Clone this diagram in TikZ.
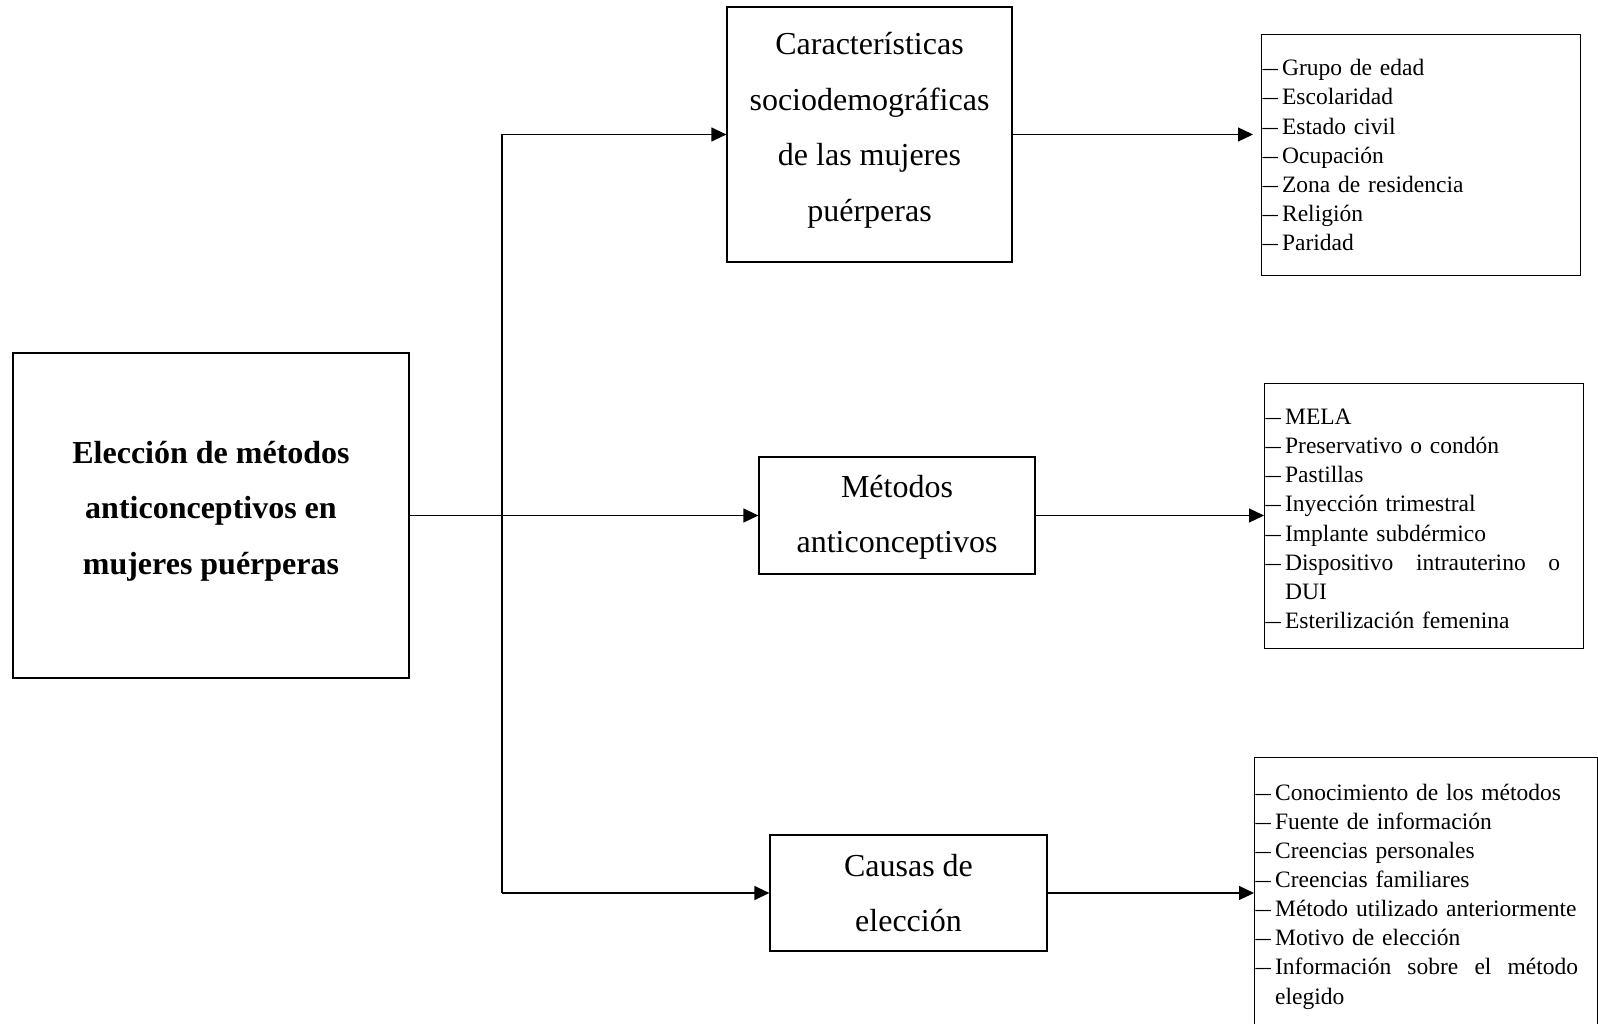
\documentclass[tikz,border=0pt]{standalone}
\usepackage{fontspec}
\usepackage{graphicx}
\setmainfont{Liberation Serif}
\usetikzlibrary{arrows.meta}
\newcommand\mydash{\makebox[19.5pt][l]{\scalebox{1.3}[1]{–}}}
\tikzset{
  box/.style={draw, line width=1.2pt, inner sep=0pt},
  bigtxt/.style={inner sep=0pt, align=center, font=\fontsize{32}{55.5}\selectfont},
  listbox/.style={draw, line width=1.2pt, inner xsep=1pt, inner ysep=0pt, align=left,
    anchor=north west, font=\fontsize{23.5}{29.1}\selectfont},
  link/.style={line width=1.2pt},
  arr/.style={line width=1.2pt, -{Triangle[length=15pt,width=14pt]}},
}
\begin{document}
\begin{tikzpicture}[x=1pt,y=-1pt]
\useasboundingbox (0,0) rectangle (1598,1024);
\clip (0,0) rectangle (1598,1024);
% main box
\node[box, minimum width=396pt, minimum height=325pt] (main) at (211,515.5) {};
\node[bigtxt] (maint) at (211,511)
  {\bfseries Elección de métodos\\ \bfseries anticonceptivos en\\ \bfseries mujeres puérperas};
% middle boxes
\node[box, minimum width=285pt, minimum height=255pt] (car) at (869.5,134.5) {};
\node[bigtxt] (cart) at (869.5,130.5)
  {Características\\ sociodemográficas\\ de las mujeres\\ puérperas};
\node[box, minimum width=276pt, minimum height=117pt] (met) at (897,515.5) {};
\node[bigtxt] (mett) at (897,517.5) {Métodos\\ anticonceptivos};
\node[box, minimum width=277pt, minimum height=116pt] (cau) at (908.5,893) {};
\node[bigtxt] (caut) at (908.5,893) {Causas de\\ elección};
% right list boxes
\node[listbox, text width=317pt, minimum height=241pt] (r1) at (1261,34)
  {\mydash Grupo de edad\\
   \mydash Escolaridad\\
   \mydash Estado civil\\
   \mydash Ocupación\\
   \mydash Zona de residencia\\
   \mydash Religión\\
   \mydash Paridad};
\node[listbox, text width=317pt, minimum height=265pt] (r2) at (1264,383)
  {\rule{0pt}{21pt}\mydash MELA\\
   \mydash Preservativo o condón\\
   \mydash Pastillas\\
   \mydash Inyección trimestral\\
   \mydash Implante subdérmico\\
   \mydash\makebox[275pt][l]{Dispositivo\hfill intrauterino\hfill o}\\
   \hspace*{19.5pt}DUI\\
   \mydash Esterilización femenina};
\node[listbox, text width=341pt, minimum height=278pt] (r3) at (1254,757)
  {\mydash Conocimiento de los métodos\\
   \mydash Fuente de información\\
   \mydash Creencias personales\\
   \mydash Creencias familiares\\
   \mydash Método utilizado anteriormente\\
   \mydash Motivo de elección\\
   \mydash\makebox[303pt][l]{Información\hfill sobre\hfill el\hfill método}\\
   \hspace*{19.5pt}elegido};
% connectors
\coordinate (jt) at (502,134.5);
\coordinate (jb) at (502,893);
\draw[link] (jt) -- (jb);
\draw[arr] (main.east) -- (met.west);
\draw[arr] (jt) -- (car.west);
\draw[arr] (jb) -- (cau.west);
\draw[arr, shorten >=8pt] (car.east) -- (car.east -| r1.west);
\draw[arr] (met.east) -- (met.east -| r2.west);
\draw[arr] (cau.east) -- (cau.east -| r3.west);
\end{tikzpicture}
\end{document}
